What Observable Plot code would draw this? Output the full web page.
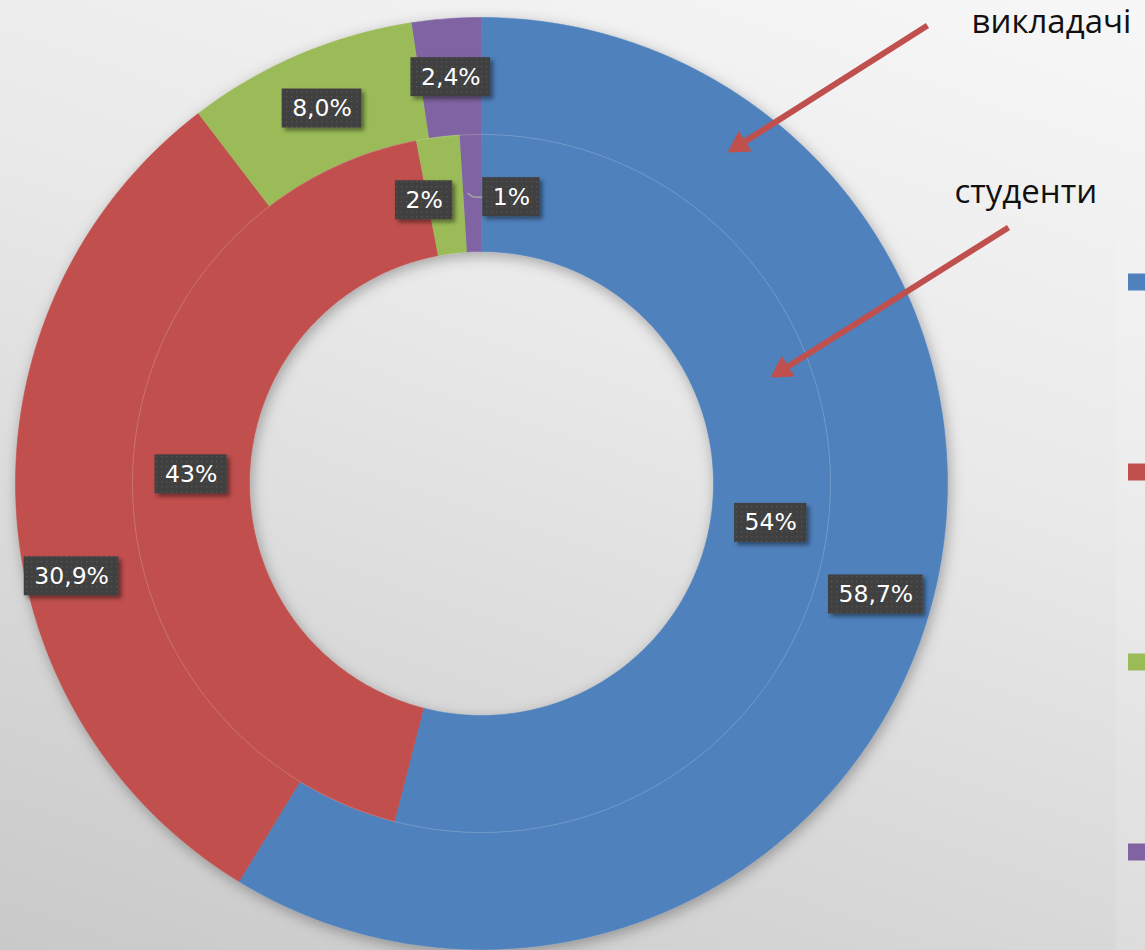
<!DOCTYPE html>
<html>
<head>
<meta charset="utf-8">
<script src="https://cdn.jsdelivr.net/npm/d3@7"></script>
<script src="https://cdn.jsdelivr.net/npm/@observablehq/plot@0.6"></script>
<style>
  html, body { margin: 0; padding: 0; }
  body {
    width: 1145px; height: 950px; overflow: hidden;
    background: linear-gradient(199deg, #f7f7f7 0%, #e9e9e9 40%, #c9c9c9 100%);
  }
  #chart svg { display: block; }
</style>
</head>
<body>
<div id="chart"></div>
<script>
// ---------------- data ----------------
const categories = ["cat1", "cat2", "cat3", "cat4"];          // legend entries (text cut off in original)
const colors = ["#4f81bd", "#c0504d", "#9bbb59", "#8064a2"];
const ringNames = ["викладачі", "студенти"];                     // outer ring, inner ring
const teacherValues = [58.7, 30.9, 8.0, 2.4];
const teacherLabels = ["58,7%", "30,9%", "8,0%", "2,4%"];
const studentValues = [54, 43, 2, 1];
const studentLabels = ["54%", "43%", "2%", "1%"];

// ---------------- layout / style ----------------
const W = 1145, H = 950;
const CX = 481, CY = 483;
const R_HOLE = 232, R_MID = 349, R_OUT = 466;
// manual label nudges (px) as placed in the original
const teacherNudge = [[2, 1], [-3, 71], [0, 0], [0, 0]];
const studentNudge = [[1, 3], [0, 0], [-21, 5], [39, 4]];
// annotation arrows: [startX, startY, tipX, tipY]
const arrowLines = [[927, 25, 727, 152], [1008, 227, 770, 377]];
const annotationPos = [[971, 22], [954, 192]];
const legendX = 1128, legendTop = 282, legendStep = 190, legendSize = 17;

// ---------------- geometry from data ----------------
function ringSlices(values, r0, r1, ring) {
  const total = d3.sum(values);
  const pts = [];
  let acc = 0;
  values.forEach((v, j) => {
    const a0 = acc / total * 2 * Math.PI, a1 = (acc + v) / total * 2 * Math.PI;
    acc += v;
    const n = Math.max(2, Math.ceil((a1 - a0) / (Math.PI / 180)));
    const id = ring + "-" + j;
    for (let k = 0; k <= n; k++) {
      const a = a0 + (a1 - a0) * k / n;
      pts.push({id, category: categories[j], x: CX + r1 * Math.sin(a), y: CY - r1 * Math.cos(a)});
    }
    for (let k = n; k >= 0; k--) {
      const a = a0 + (a1 - a0) * k / n;
      pts.push({id, category: categories[j], x: CX + r0 * Math.sin(a), y: CY - r0 * Math.cos(a)});
    }
  });
  return pts;
}
function ringLabels(values, labels, r0, r1, nudges) {
  const total = d3.sum(values);
  const rm = (r0 + r1) / 2;
  let acc = 0;
  return values.map((v, j) => {
    const a = (acc + v / 2) / total * 2 * Math.PI;
    acc += v;
    return {text: labels[j], x: CX + rm * Math.sin(a) + nudges[j][0], y: CY - rm * Math.cos(a) + nudges[j][1]};
  });
}

const slices = [
  ...ringSlices(teacherValues, R_MID, R_OUT, ringNames[0]),
  ...ringSlices(studentValues, R_HOLE, R_MID, ringNames[1])
];
const labels = [
  ...ringLabels(teacherValues, teacherLabels, R_MID, R_OUT, teacherNudge),
  ...ringLabels(studentValues, studentLabels, R_HOLE, R_MID, studentNudge)
];
const sepCircle = d3.range(0, 361).map(d => ({x: CX + R_MID * Math.sin(d * Math.PI / 180), y: CY - R_MID * Math.cos(d * Math.PI / 180)}));

// leader line for the small inner purple slice
const purpleInner = labels[7];
const leader = [
  {x1: purpleInner.x - 44, y1: purpleInner.y - 4, x2: purpleInner.x - 38, y2: purpleInner.y},
  {x1: purpleInner.x - 38, y1: purpleInner.y, x2: purpleInner.x - 27, y2: purpleInner.y}
];

const arrows = arrowLines.map(([x1, y1, x2, y2]) => {
  const dx = x2 - x1, dy = y2 - y1, L = Math.hypot(dx, dy);
  const ux = dx / L, uy = dy / L;
  return {
    x1, y1, x2: x2 - ux * 16, y2: y2 - uy * 16,
    hx: x2 - ux * 14, hy: y2 - uy * 14,
    rotate: Math.atan2(dx, -dy) * 180 / Math.PI
  };
});
const annotations = ringNames.map((t, i) => ({text: t, x: annotationPos[i][0], y: annotationPos[i][1]}));
const legend = categories.map((c, i) => ({
  category: c, x1: legendX, x2: legendX + legendSize,
  y1: legendTop + i * legendStep - legendSize / 2, y2: legendTop + i * legendStep + legendSize / 2
}));

// ---------------- plot ----------------
const chart = Plot.plot({
  width: W, height: H,
  margin: 0,
  x: {domain: [0, W], range: [0, W], axis: null},
  y: {domain: [0, H], range: [0, H], axis: null},
  color: {domain: categories, range: colors},
  style: {background: "transparent", overflow: "visible"},
  marks: [
    Plot.rect([{x1: 1116, x2: W, y1: 240, y2: H}], {x1: "x1", x2: "x2", y1: "y1", y2: "y2", fill: "white", fillOpacity: 0.12}),
    Plot.line(slices, {x: "x", y: "y", z: "id", fill: "category", stroke: "category", strokeWidth: 0.6, curve: "linear"}),
    Plot.line(sepCircle, {x: "x", y: "y", stroke: "white", strokeOpacity: 0.18, strokeWidth: 1}),
    Plot.link(leader, {x1: "x1", y1: "y1", x2: "x2", y2: "y2", stroke: "#a5a5a5", strokeWidth: 1.5}),
    Plot.text(labels, {x: "x", y: "y", text: "text", fill: "white", fontSize: 23.5, fontFamily: "DejaVu Sans"}),
    Plot.link(arrows, {x1: "x1", y1: "y1", x2: "x2", y2: "y2", stroke: "#c0504d", strokeWidth: 6}),
    Plot.dot(arrows, {x: "hx", y: "hy", symbol: "triangle", r: 9, fill: "#c0504d", stroke: "none", rotate: "rotate"}),
    Plot.text(annotations, {x: "x", y: "y", text: "text", textAnchor: "start", fill: "#111", fontSize: 33, fontFamily: "Open Sans"}),
    Plot.rect(legend, {x1: "x1", x2: "x2", y1: "y1", y2: "y2", fill: "category"})
  ]
});
document.getElementById("chart").appendChild(chart);

// ---------------- post-process: shadows & label boxes ----------------
const svg = d3.select(chart);
const defs = svg.insert("defs", ":first-child");
const f1 = defs.append("filter").attr("id", "ringShadow").attr("x", "-10%").attr("y", "-10%").attr("width", "120%").attr("height", "120%");
f1.append("feDropShadow").attr("dx", 2).attr("dy", 4).attr("stdDeviation", 7).attr("flood-color", "#000").attr("flood-opacity", 0.3);
const f2 = defs.append("filter").attr("id", "boxShadow").attr("x", "-20%").attr("y", "-30%").attr("width", "150%").attr("height", "180%");
f2.append("feDropShadow").attr("dx", 3).attr("dy", 3).attr("stdDeviation", 2.2).attr("flood-color", "#000").attr("flood-opacity", 0.45);
const pat = defs.append("pattern").attr("id", "dots").attr("patternUnits", "userSpaceOnUse").attr("width", 5).attr("height", 5);
pat.append("rect").attr("width", 5).attr("height", 5).attr("fill", "#404040");
pat.append("rect").attr("x", 1).attr("y", 1).attr("width", 1.3).attr("height", 1.3).attr("fill", "#555555");

svg.select('g[aria-label="line"]').attr("filter", "url(#ringShadow)");

const textGroups = chart.querySelectorAll('g[aria-label="text"]');
const labelGroup = textGroups[0];
const boxes = d3.select(labelGroup.parentNode).insert("g", () => labelGroup).attr("class", "label-boxes");
const texts = labelGroup.querySelectorAll("text");
texts.forEach((t, i) => {
  const w = t.getComputedTextLength();
  const d = labels[i];
  boxes.append("rect")
    .attr("x", d.x - w / 2 - 10).attr("y", d.y - 19.5)
    .attr("width", w + 20).attr("height", 39)
    .attr("fill", "url(#dots)")
    .attr("filter", "url(#boxShadow)");
});
</script>
</body>
</html>
